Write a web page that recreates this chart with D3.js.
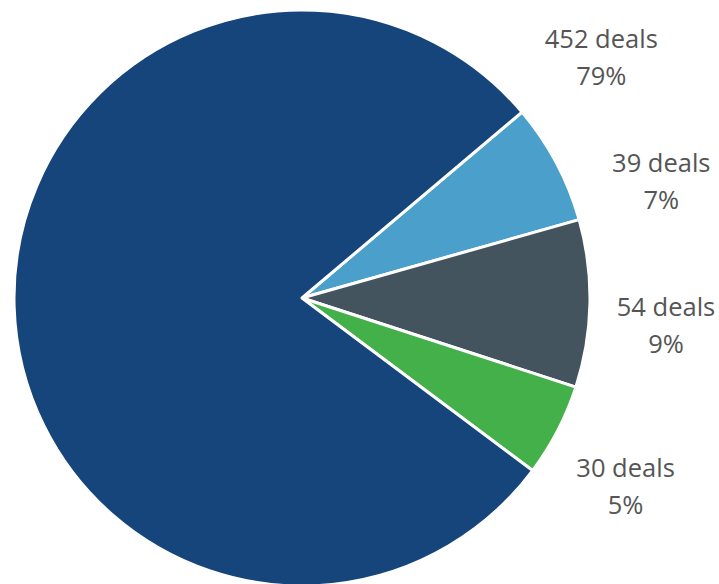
<!DOCTYPE html>
<html lang="en">
<head>
    <meta charset="UTF-8">
    <title>Deals</title>
    <script src="https://cdnjs.cloudflare.com/ajax/libs/d3/7.8.5/d3.min.js"></script>
    <style>
        * { margin: 0; padding: 0; }
        body { background: #fff; }
        svg text { font-family: 'Open Sans', sans-serif; fill: #555; }
    </style>
</head>
<body>
    <div id="chart"></div>
    <script>
        // slices in drawing order, clockwise from the start angle
        const deals = [39, 54, 30, 452];
        const percents = ["7%", "9%", "5%", "79%"];
        const colors = ["#4b9fcb", "#44545f", "#44b04a", "#15457a"];

        // where each label sits around the pie (degrees from 12 o'clock, distance from centre)
        const labelAngles = [71.9, 94.2, 120.1, 51.2];
        const labelRadii = [378, 365, 374, 384];

        const width = 719, height = 584;
        const cx = 302, cy = 298, radius = 288;
        const startDeg = 49.8;

        const svg = d3.select("#chart").append("svg")
            .attr("width", width)
            .attr("height", height);

        const g = svg.append("g").attr("transform", `translate(${cx},${cy})`);

        const pie = d3.pie()
            .sort(null)
            .startAngle(startDeg * Math.PI / 180)
            .endAngle((startDeg + 360) * Math.PI / 180);

        const arc = d3.arc().innerRadius(0).outerRadius(radius);

        g.selectAll("path")
            .data(pie(deals))
            .enter()
            .append("path")
            .attr("d", arc)
            .attr("fill", (d, i) => colors[i])
            .attr("stroke", "#fff")
            .attr("stroke-width", 3)
            .attr("stroke-linejoin", "round");

        const labels = g.selectAll("g.label")
            .data(deals)
            .enter()
            .append("g")
            .attr("class", "label")
            .attr("transform", (d, i) => {
                const a = labelAngles[i] * Math.PI / 180;
                const r = labelRadii[i];
                return `translate(${r * Math.sin(a)},${-r * Math.cos(a)})`;
            });

        labels.append("text")
            .attr("text-anchor", "middle")
            .attr("y", -9)
            .attr("font-size", 25.5)
            .text(d => `${d} deals`);

        labels.append("text")
            .attr("text-anchor", "middle")
            .attr("y", 28)
            .attr("font-size", 25.5)
            .text((d, i) => percents[i]);
    </script>
</body>
</html>
